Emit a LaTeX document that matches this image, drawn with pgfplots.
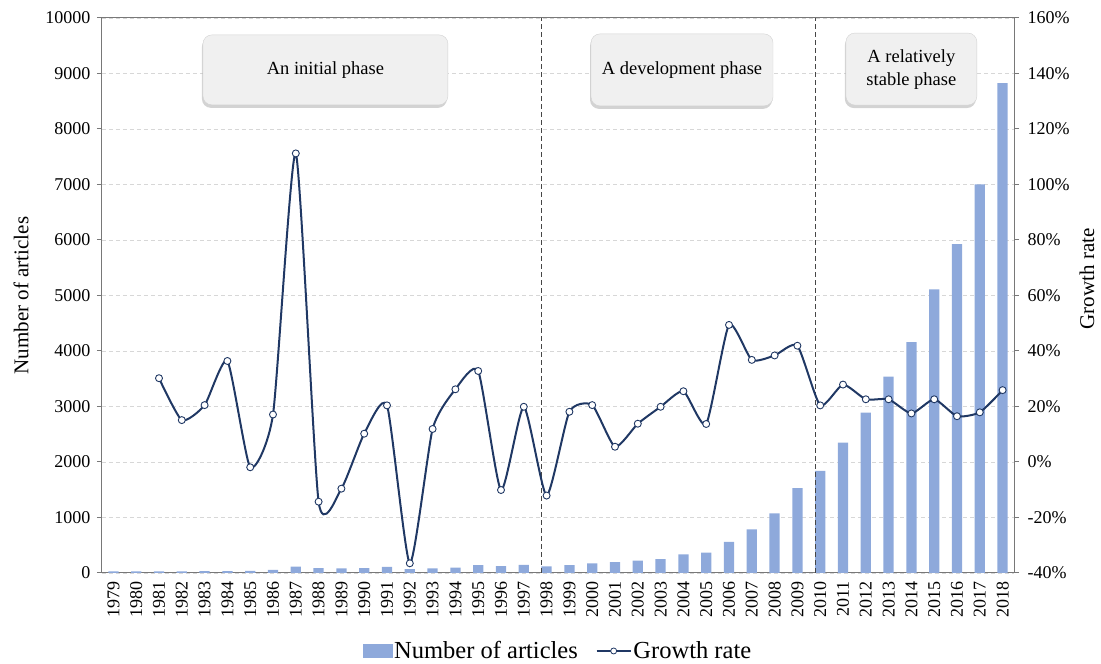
\documentclass[border=0pt]{standalone}
\usepackage{pgfplots}
\pgfplotsset{compat=1.18}
\usepackage{pgfplotstable}
\usepackage{fontspec}
\setmainfont{Liberation Serif}
\usetikzlibrary{shadows}
\definecolor{barblue}{RGB}{142,169,219}
\definecolor{navy}{RGB}{32,56,100}
\definecolor{axgray}{RGB}{120,120,120}
\definecolor{gridgray}{RGB}{215,215,215}
\definecolor{boxfill}{RGB}{240,240,240}
\definecolor{vlinegray}{RGB}{70,70,70}

\pgfplotstableread{
i art
0 30
1 30
2 30
3 30
4 35
5 35
6 38
7 55
8 115
9 88
10 85
11 88
12 110
13 70
14 82
15 95
16 140
17 125
18 145
19 120
20 140
21 175
22 195
23 222
24 250
25 337
26 365
27 560
28 787
29 1075
30 1530
31 1840
32 2350
33 2890
34 3540
35 4160
36 5110
37 5925
38 7000
39 8825
}\arts

\pgfplotstableread{
i gr
2 30.2
3 15.1
4 20.5
5 36.4
6 -1.9
7 17.1
8 111.2
9 -14.3
10 -9.6
11 10.2
12 20.4
13 -36.5
14 11.9
15 26.2
16 32.8
17 -10.1
18 19.9
19 -12.1
20 18.1
21 20.5
22 5.5
23 13.8
24 19.9
25 25.5
26 13.7
27 49.4
28 36.8
29 38.4
30 41.9
31 20.4
32 27.9
33 22.6
34 22.6
35 17.5
36 22.6
37 16.5
38 17.9
39 25.9
}\growth

\begin{document}
\begin{tikzpicture}
\begin{axis}[name=ax1,
  scale only axis, width=912pt, height=555pt,
  xmin=-0.5, xmax=39.5, ymin=0, ymax=10000,
  scaled y ticks=false, scaled x ticks=false,
  xtick={0,...,39},
  xticklabel={\pgfmathtruncatemacro\yr{\tick+1979}\yr},
  xticklabel style={rotate=90, anchor=east, font=\fontsize{18}{20}\selectfont},
  xtick style={draw=none},
  ytick={0,1000,...,10000},
  yticklabels={0,1000,2000,3000,4000,5000,6000,7000,8000,9000,10000},
  yticklabel style={font=\fontsize{18}{20}\selectfont, xshift=-3pt},
  ytick pos=left,
  tick align=outside, major tick length=5pt,
  tick style={axgray, line width=1pt},
  axis line style={axgray, line width=1pt},
  ymajorgrids, grid style={gridgray, dash pattern=on 4pt off 3pt, line width=0.8pt},
  ylabel={Number of articles},
  ylabel style={at={(axis description cs:-0.0888,0.5)}, anchor=center, font=\fontsize{21}{24}\selectfont},
  /pgf/number format/assume math mode=true,
]
\addplot[ybar, bar width=0.45, fill=barblue, draw=none] table[x=i,y=art]{\arts};
\draw[vlinegray, dash pattern=on 5pt off 3pt, line width=1.1pt] (axis cs:18.78,0) -- (axis cs:18.78,10000);
\draw[vlinegray, dash pattern=on 5pt off 3pt, line width=1.1pt] (axis cs:30.78,0) -- (axis cs:30.78,10000);
\end{axis}
\begin{axis}[
  scale only axis, width=912pt, height=555pt,
  xmin=-0.5, xmax=39.5, ymin=-40, ymax=160,
  scaled y ticks=false,
  axis x line=none, axis y line*=right,
  ytick={-40,-20,...,160},
  yticklabels={-40\%,-20\%,0\%,20\%,40\%,60\%,80\%,100\%,120\%,140\%,160\%},
  yticklabel style={font=\fontsize{18}{20}\selectfont, xshift=5pt},
  tick align=outside, major tick length=5pt,
  tick style={axgray, line width=1pt},
  axis line style={axgray, line width=1pt},
  ylabel={Growth rate},
  ylabel style={at={(axis description cs:1.080,0.53)}, anchor=center, font=\fontsize{21}{24}\selectfont},
  legend columns=2,
  legend style={draw=none, fill=none, at={(0.5,-0.1405)}, anchor=center,
    font=\fontsize{24.5}{26}\selectfont,
    /tikz/every even column/.append style={column sep=16pt}},
  /pgf/number format/assume math mode=true,
]
\addlegendimage{legend image code/.code={\fill[barblue] (0pt,-6pt) rectangle (29pt,7pt);}}
\addlegendentry{Number of articles}
\addplot[navy, line width=2pt, smooth, tension=0.35, mark=*, mark size=3.5pt,
  mark options={fill=white, draw=navy, line width=0.9pt},
  legend image code/.code={\draw[navy, line width=1.6pt] (0pt,0pt) -- (34pt,0pt); \draw[navy, fill=white, line width=0.8pt] (17pt,0pt) circle (3pt);}]
  table[x=i,y=gr]{\growth};
\addlegendentry{Growth rate}
\node[draw=gray!35, fill=boxfill, rounded corners=9pt, minimum width=245pt, minimum height=70pt,
  drop shadow={shadow xshift=-1pt, shadow yshift=-3pt, opacity=0.35},
  font=\fontsize{18.5}{22}\selectfont, align=center] at (axis cs:9.30,141.3) {An initial phase};
\node[draw=gray!35, fill=boxfill, rounded corners=9pt, minimum width=182pt, minimum height=72pt,
  drop shadow={shadow xshift=-1pt, shadow yshift=-3pt, opacity=0.35},
  font=\fontsize{18.5}{22}\selectfont, align=center] at (axis cs:24.94,141.3) {A development phase};
\node[draw=gray!35, fill=boxfill, rounded corners=9pt, minimum width=131pt, minimum height=72pt,
  drop shadow={shadow xshift=-1pt, shadow yshift=-3pt, opacity=0.35},
  font=\fontsize{18.5}{23}\selectfont, align=center] at (axis cs:35.0,141.6) {A relatively\\stable phase};
\end{axis}
\pgfresetboundingbox
\path ([shift={(-102pt,-91pt)}]ax1.south west) rectangle ([shift={(87pt,18pt)}]ax1.north east);
\end{tikzpicture}
\end{document}
